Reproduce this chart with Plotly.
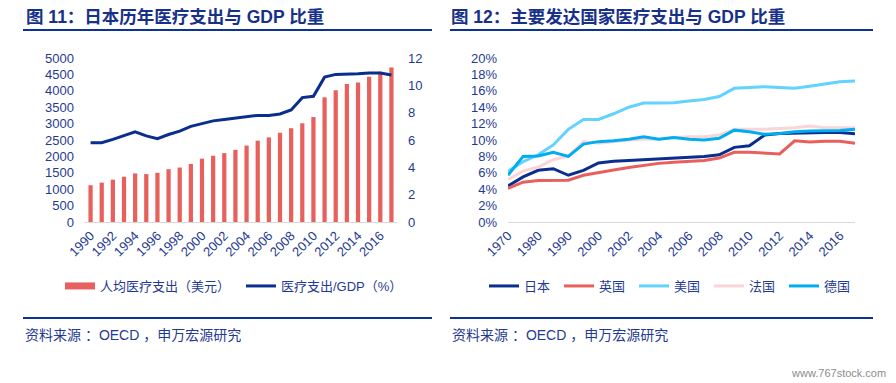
import plotly.graph_objects as go

# ---------------- data ----------------
jp_years = [str(y) for y in range(1990, 2018)]
jp_per_capita_usd = [1120, 1200, 1290, 1380, 1480, 1460, 1500, 1610, 1660, 1770,
                     1930, 2020, 2100, 2200, 2330, 2480, 2580, 2720, 2860, 3010,
                     3200, 3800, 4020, 4210, 4250, 4430, 4580, 4710]
jp_gdp_share = [5.8, 5.8, 6.05, 6.35, 6.6, 6.3, 6.1, 6.4, 6.65, 7.0,
                7.2, 7.4, 7.5, 7.6, 7.7, 7.8, 7.8, 7.9, 8.2, 9.1,
                9.2, 10.6, 10.8, 10.8, 10.85, 10.9, 10.9, 10.75]

cty_years = ["1970", "1975", "1980", "1985", "1990", "1995"] + [str(y) for y in range(2000, 2018)]
japan = [4.4, 5.5, 6.3, 6.5, 5.7, 6.3, 7.2, 7.4, 7.5, 7.6, 7.7, 7.85, 7.9, 8.0, 8.2, 9.1,
         9.3, 10.6, 10.8, 10.85, 10.9, 10.9, 10.9, 10.75]
uk = [4.1, 4.85, 5.05, 5.1, 5.1, 5.7, 6.05, 6.35, 6.65, 6.9, 7.15, 7.3, 7.4, 7.5, 7.8, 8.5,
      8.5, 8.4, 8.3, 9.9, 9.75, 9.85, 9.85, 9.6]
usa = [6.2, 7.35, 8.2, 9.4, 11.3, 12.5, 12.5, 13.2, 14.0, 14.5, 14.5, 14.55, 14.75, 14.95,
       15.3, 16.3, 16.4, 16.5, 16.4, 16.3, 16.55, 16.85, 17.1, 17.2]
france = [5.2, 6.2, 6.7, 7.6, 8.05, 9.8, 9.6, 9.8, 10.0, 10.1, 10.1, 10.3, 10.4, 10.4,
          10.6, 11.3, 11.3, 11.3, 11.4, 11.5, 11.7, 11.5, 11.5, 11.5]
germany = [5.7, 8.0, 8.05, 8.5, 8.0, 9.5, 9.8, 9.9, 10.1, 10.4, 10.1, 10.3, 10.1, 10.0,
           10.2, 11.2, 11.0, 10.7, 10.8, 11.0, 11.1, 11.15, 11.15, 11.3]

country_names = ["日本", "英国", "美国", "法国", "德国"]
country_series = [japan, uk, usa, france, germany]
country_colors = ["#0A2E8E", "#E8605C", "#62D2FF", "#FAD4D6", "#00AEEF"]

# ---------------- style ----------------
W, H = 896, 383
OFF = 8  # page body margin offset
FONT = "Liberation Sans, Arial, Noto Sans CJK SC, sans-serif"
TICK = "#1F3A93"
NAVY = "#0B3397"
TITLE = "#17318A"
BAR = "#E8605C"


def px(x):
    return (x - OFF) / W


def py(y):
    return 1 - (y - OFF) / H


fig = go.Figure()

# left chart
fig.add_trace(go.Bar(x=jp_years, y=jp_per_capita_usd, marker_color=BAR, showlegend=False,
                     name="人均医疗支出（美元）", xaxis="x", yaxis="y"))
fig.add_trace(go.Scatter(x=[None], y=[None], mode="lines", line=dict(color=BAR, width=7),
                         name="人均医疗支出（美元）", legend="legend", xaxis="x", yaxis="y"))
fig.add_trace(go.Scatter(x=jp_years, y=jp_gdp_share, mode="lines", line=dict(color="#0A2E8E", width=3),
                         name="医疗支出/GDP（%）", legend="legend", xaxis="x", yaxis="y2"))

# right chart
for nm, s, c in zip(country_names, country_series, country_colors):
    fig.add_trace(go.Scatter(x=cty_years, y=s, mode="lines", line=dict(color=c, width=3),
                             name=nm, legend="legend2", xaxis="x2", yaxis="y3"))

ydom = [py(222), py(58)]
tickfont = dict(family=FONT, size=13, color=TICK)

fig.update_layout(
    template="none",
    width=W, height=H, autosize=False,
    margin=dict(l=0, r=0, t=0, b=0, pad=0, autoexpand=False),
    paper_bgcolor="white", plot_bgcolor="white",
    font=dict(family=FONT, color=TICK),
    bargap=0.62,
    xaxis=dict(domain=[px(85), px(397)], type="category", dtick=2, tickangle=-45,
               showgrid=False, showline=True, linecolor="#D9D9D9", linewidth=1, zeroline=False,
               ticks="", tickfont=tickfont, anchor="y", automargin=False),
    yaxis=dict(domain=ydom, range=[0, 5000], dtick=500, showgrid=False, zeroline=False,
               showline=False, ticks="", tickfont=tickfont, ticklabelstandoff=10, anchor="x",
               automargin=False),
    yaxis2=dict(domain=ydom, range=[0, 12], dtick=2, overlaying="y", side="right",
                showgrid=False, zeroline=False, showline=False, ticks="", tickfont=tickfont,
                ticklabelstandoff=10, anchor="x", automargin=False),
    xaxis2=dict(domain=[px(508), px(855)], type="category", dtick=2, tickangle=-45,
                showgrid=False, showline=True, linecolor="#D9D9D9", linewidth=1, zeroline=False,
                ticks="", tickfont=tickfont, anchor="y3", automargin=False),
    yaxis3=dict(domain=ydom, range=[0, 20], dtick=2, ticksuffix="%", showgrid=False,
                zeroline=False, showline=False, ticks="", tickfont=tickfont, ticklabelstandoff=10,
                anchor="x2", automargin=False),
    legend=dict(orientation="h", x=px(60), y=py(286), xanchor="left", yanchor="middle",
                font=dict(family=FONT, size=13, color=TICK), bgcolor="rgba(0,0,0,0)",
                borderwidth=0, itemwidth=30, tracegroupgap=0,
                entrywidth=136, entrywidthmode="pixels"),
    legend2=dict(orientation="h", x=px(484), y=py(286), xanchor="left", yanchor="middle",
                 font=dict(family=FONT, size=13, color=TICK), bgcolor="rgba(0,0,0,0)",
                 borderwidth=0, itemwidth=30, entrywidth=30, entrywidthmode="pixels"),
    showlegend=True,
)

# titles
fig.add_annotation(text="<b>图 11：日本历年医疗支出与 GDP 比重</b>", xref="paper", yref="paper",
                   x=px(24), y=py(17), xanchor="left", yanchor="middle", showarrow=False,
                   font=dict(family=FONT, size=17.5, color=TITLE))
fig.add_annotation(text="<b>图 12：主要发达国家医疗支出与 GDP 比重</b>", xref="paper", yref="paper",
                   x=px(449), y=py(17), xanchor="left", yanchor="middle", showarrow=False,
                   font=dict(family=FONT, size=17.5, color=TITLE))

# rules
for x0, x1 in [(23, 432), (450, 873)]:
    fig.add_shape(type="line", xref="paper", yref="paper", x0=px(x0), x1=px(x1),
                  y0=py(30), y1=py(30), line=dict(color=NAVY, width=2))
    fig.add_shape(type="line", xref="paper", yref="paper", x0=px(x0), x1=px(x1),
                  y0=py(318), y1=py(318), line=dict(color=NAVY, width=2))

# sources
for x0 in [23, 450]:
    fig.add_annotation(text="资料来源 ：OECD ，申万宏源研究", xref="paper", yref="paper",
                       x=px(x0), y=py(335), xanchor="left", yanchor="middle", showarrow=False,
                       font=dict(family=FONT, size=14, color=TICK))

fig.add_annotation(text="www.767stock.com", xref="paper", yref="paper",
                   x=px(888), y=py(373), xanchor="right", yanchor="middle", showarrow=False,
                   font=dict(family=FONT, size=11, color="#8C8C8C"))

fig.write_html("out.html")
